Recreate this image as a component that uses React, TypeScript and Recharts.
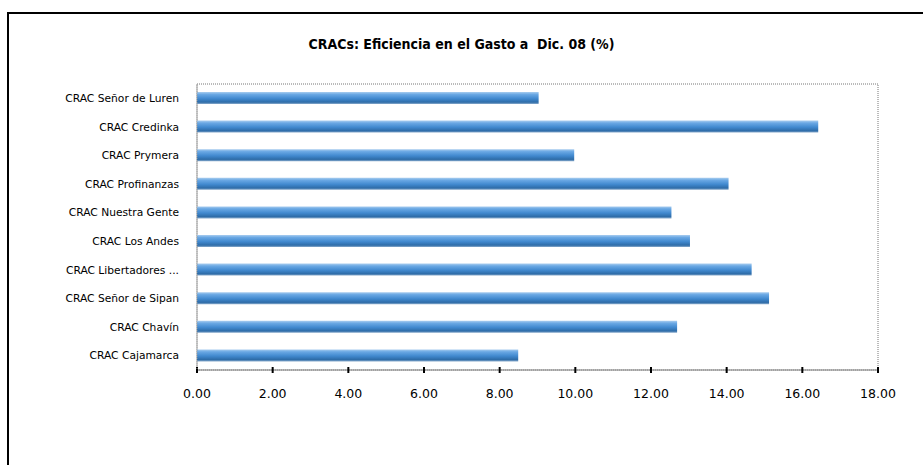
import { BarChart, Bar, XAxis, YAxis, ReferenceArea } from 'recharts';

const categories = [
  'CRAC Señor de Luren',
  'CRAC Credinka',
  'CRAC Prymera',
  'CRAC Profinanzas',
  'CRAC Nuestra Gente',
  'CRAC Los Andes',
  'CRAC Libertadores ...',
  'CRAC Señor de Sipan',
  'CRAC Chavín',
  'CRAC Cajamarca',
];
const eficiencia = [9.03, 16.42, 9.97, 14.05, 12.54, 13.03, 14.66, 15.12, 12.69, 8.49];
const xTicks = [0, 2, 4, 6, 8, 10, 12, 14, 16, 18];

const data = categories.map((name, i) => ({ name, value: eficiencia[i] }));

export default function App() {
  return (
    <div style={{ position: 'absolute', left: 0, top: 0, width: 923, height: 465, overflow: 'hidden', background: '#fff' }}>
      <div
        style={{
          position: 'absolute',
          left: 7,
          top: 12,
          width: 940,
          height: 480,
          borderTop: '2px solid #000',
          borderLeft: '2px solid #000',
        }}
      />
      <div
        style={{
          position: 'absolute',
          top: 36,
          left: 0,
          width: 923,
          textAlign: 'center',
          fontFamily: '"DejaVu Sans Condensed", "DejaVu Sans", sans-serif',
          fontWeight: 'bold',
          fontSize: 14,
          color: '#000',
          whiteSpace: 'pre',
        }}
      >
        {'CRACs: Eficiencia en el Gasto a  Dic. 08 (%)'}
      </div>
      <BarChart
        width={923}
        height={465}
        data={data}
        layout="vertical"
        margin={{ top: 84, right: 45, bottom: 65, left: 0 }}
        style={{ position: 'absolute', left: 0, top: 0 }}
      >
        <defs>
          <linearGradient id="barGrad" x1="0" y1="0" x2="0" y2="1">
            <stop offset="0%" stopColor="#a9cdef" />
            <stop offset="20%" stopColor="#6aa8e4" />
            <stop offset="55%" stopColor="#4189cf" />
            <stop offset="85%" stopColor="#2e6ca8" />
            <stop offset="100%" stopColor="#8aabcc" />
          </linearGradient>
        </defs>
        <ReferenceArea
          x1={0}
          x2={18}
          fill="none"
          stroke="#777"
          strokeDasharray="1 1"
          ifOverflow="visible"
        />
        <XAxis
          type="number"
          domain={[0, 18]}
          ticks={xTicks}
          tickFormatter={(v: number) => v.toFixed(2)}
          height={30}
          axisLine={{ stroke: '#444', strokeDasharray: '1 1' }}
          tickLine={{ stroke: '#000', strokeWidth: 2, transform: 'translate(0,-3)' }}
          tickSize={6}
          tickMargin={13}
          tick={{ fill: '#000', fontSize: 12.5, fontFamily: '"DejaVu Sans", sans-serif' }}
          interval={0}
        />
        <YAxis
          type="category"
          dataKey="name"
          width={197}
          axisLine={{ stroke: '#999', strokeDasharray: '1 1' }}
          tickLine={false}
          tickSize={0}
          tickMargin={18}
          interval={0}
          tick={{ fill: '#000', fontSize: 10.7, fontFamily: '"DejaVu Sans", sans-serif' }}
        />
        <Bar dataKey="value" fill="url(#barGrad)" barSize={12} isAnimationActive={false} />
      </BarChart>
    </div>
  );
}
